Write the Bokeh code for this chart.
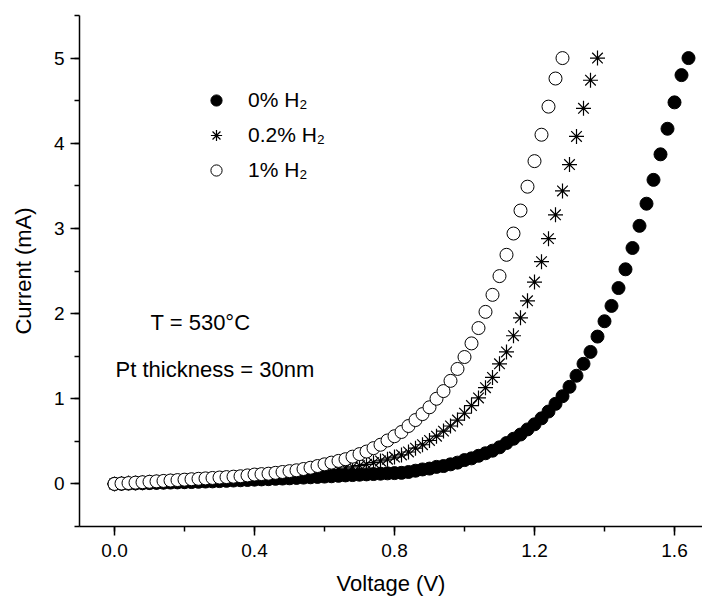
from bokeh.plotting import figure
from bokeh.models import (Range1d, SingleIntervalTicker, PrintfTickFormatter,
                          Legend, LegendItem, Label)
from bokeh.embed import file_html
from bokeh.resources import INLINE

# ---- data ----
step = 0.02
cur_0pct = [0.000, 0.002, 0.004, 0.006, 0.008, 0.010, 0.012, 0.014, 0.016, 0.018,
            0.020, 0.022, 0.025, 0.028, 0.030, 0.033, 0.036, 0.040, 0.043, 0.046,
            0.050, 0.053, 0.056, 0.060, 0.063, 0.066, 0.070, 0.074, 0.078, 0.082,
            0.086, 0.090, 0.095, 0.100, 0.104, 0.108, 0.112, 0.116, 0.120, 0.124,
            0.127, 0.130, 0.140, 0.155, 0.170, 0.180, 0.200, 0.210, 0.230, 0.250,
            0.280, 0.300, 0.330, 0.360, 0.390, 0.430, 0.480, 0.530, 0.580, 0.640,
            0.700, 0.770, 0.850, 0.940, 1.030, 1.140, 1.270, 1.410, 1.550, 1.730,
            1.910, 2.090, 2.300, 2.520, 2.770, 3.030, 3.290, 3.570, 3.870, 4.170,
            4.480, 4.800, 5.000]
cur_02pct = [0.000, 0.005, 0.010, 0.012, 0.015, 0.020, 0.022, 0.025, 0.030, 0.032,
             0.035, 0.040, 0.042, 0.045, 0.050, 0.055, 0.060, 0.065, 0.070, 0.075,
             0.080, 0.085, 0.090, 0.095, 0.100, 0.110, 0.115, 0.120, 0.130, 0.140,
             0.150, 0.160, 0.170, 0.185, 0.200, 0.215, 0.230, 0.250, 0.270, 0.290,
             0.315, 0.340, 0.375, 0.420, 0.460, 0.510, 0.560, 0.620, 0.680, 0.750,
             0.830, 0.920, 1.010, 1.130, 1.250, 1.410, 1.550, 1.740, 1.950, 2.150,
             2.370, 2.610, 2.880, 3.160, 3.440, 3.750, 4.080, 4.410, 4.740, 5.000]
cur_1pct = [0.000, 0.005, 0.010, 0.015, 0.020, 0.025, 0.030, 0.035, 0.040, 0.045,
            0.050, 0.055, 0.060, 0.065, 0.070, 0.075, 0.080, 0.085, 0.090, 0.100,
            0.110, 0.115, 0.120, 0.130, 0.140, 0.150, 0.160, 0.175, 0.190, 0.210,
            0.230, 0.250, 0.270, 0.290, 0.320, 0.350, 0.380, 0.420, 0.460, 0.510,
            0.560, 0.610, 0.680, 0.750, 0.820, 0.900, 1.000, 1.090, 1.210, 1.350,
            1.490, 1.650, 1.830, 2.020, 2.220, 2.440, 2.690, 2.940, 3.210, 3.490,
            3.790, 4.100, 4.430, 4.760, 5.000]
volt_0pct = [round(i * step, 2) for i in range(len(cur_0pct))]
volt_02pct = [round(i * step, 2) for i in range(len(cur_02pct))]
volt_1pct = [round(i * step, 2) for i in range(len(cur_1pct))]

labels = ["0% H\u2082", "0.2% H\u2082", "1% H\u2082"]
x_label = "Voltage (V)"
y_label = "Current (mA)"
note_temp = "T = 530\u00b0C"
note_pt = "Pt thickness = 30nm"

FONT = "Liberation Sans"

p = figure(width=702, height=598, output_backend="svg", toolbar_location=None,
           x_range=Range1d(-0.1, 1.68), y_range=Range1d(-0.5, 5.5),
           min_border_left=79, min_border_right=0, min_border_top=15,
           min_border_bottom=71)
p.outline_line_color = None
p.xgrid.visible = False
p.ygrid.visible = False
p.background_fill_color = "white"
p.border_fill_color = "white"

p.xaxis.ticker = SingleIntervalTicker(interval=0.4, num_minor_ticks=2)
p.yaxis.ticker = SingleIntervalTicker(interval=1, num_minor_ticks=2)
p.xaxis.formatter = PrintfTickFormatter(format="%.1f")
p.yaxis.formatter = PrintfTickFormatter(format="%d")

for ax in (p.xaxis, p.yaxis):
    ax.axis_line_width = 1.5
    ax.axis_line_color = "black"
    ax.major_tick_line_width = 1.5
    ax.minor_tick_line_width = 1.5
    ax.major_tick_line_color = "black"
    ax.minor_tick_line_color = "black"
    ax.major_tick_out = 9
    ax.major_tick_in = 0
    ax.minor_tick_out = 5
    ax.minor_tick_in = 0
    ax.major_label_text_font = FONT
    ax.major_label_text_font_size = "19px"
    ax.major_label_text_color = "black"
    ax.axis_label_text_font = FONT
    ax.axis_label_text_font_size = "22px"
    ax.axis_label_text_font_style = "normal"
    ax.axis_label_text_color = "black"

p.xaxis.axis_label = x_label
p.yaxis.axis_label = y_label
p.xaxis.major_label_standoff = 8
p.yaxis.major_label_standoff = 6
p.xaxis.axis_label_standoff = 11
p.yaxis.axis_label_standoff = 15

r0 = p.scatter(volt_0pct, cur_0pct, marker="circle", size=13,
               fill_color="black", line_color="black")
r1 = p.scatter(volt_02pct, cur_02pct, marker="asterisk", size=15,
               line_color="black", line_width=1.2)
r2 = p.scatter(volt_1pct, cur_1pct, marker="circle", size=13,
               fill_color="white", line_color="black", line_width=1)

legend = Legend(items=[LegendItem(label=labels[0], renderers=[r0]),
                       LegendItem(label=labels[1], renderers=[r1]),
                       LegendItem(label=labels[2], renderers=[r2])],
                location=(123, 342), border_line_color=None,
                background_fill_alpha=0, padding=0, margin=0,
                glyph_width=28, glyph_height=28, label_height=28,
                spacing=7, label_standoff=18,
                label_text_font=FONT, label_text_font_size="21px",
                label_text_color="black")
p.add_layout(legend, "center")

p.add_layout(Label(x=0.103, y=1.75, text=note_temp, text_font=FONT,
                   text_font_size="22px", text_color="black"))
p.add_layout(Label(x=0.003, y=1.20, text=note_pt, text_font=FONT,
                   text_font_size="22px", text_color="black"))

open("out.html", "w").write(file_html(p, INLINE))
